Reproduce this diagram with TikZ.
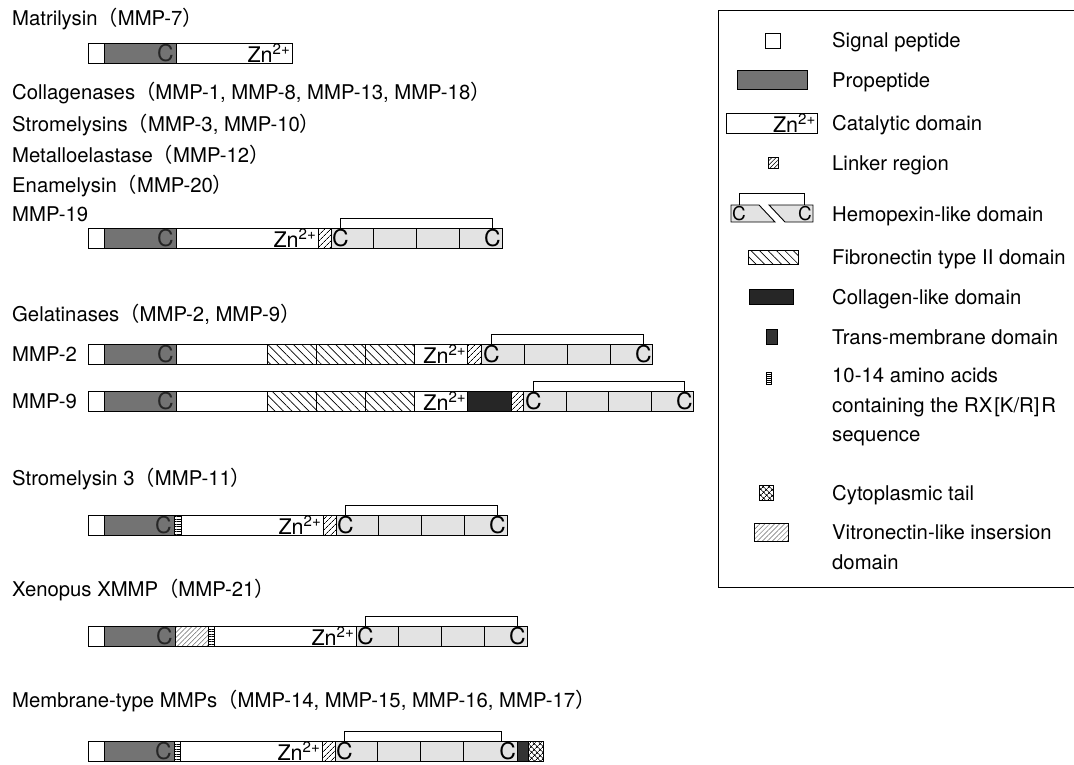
\documentclass[tikz,border=0pt]{standalone}
\usepackage{fontspec}
\setmainfont{TeX Gyre Heros}
\newfontfamily\cjk{Noto Sans CJK JP}
\usetikzlibrary{positioning,patterns.meta}

\newcommand{\jpl}{{\cjk （}}
\newcommand{\jpr}{{\cjk ）}}
\newcommand{\znion}{Zn\textsuperscript{2+}}

\begin{document}
\begin{tikzpicture}[x=1pt, y=-1pt,
  every node/.style={font=\fontsize{20.3}{29.5}\selectfont},
  dom/.style={draw, line width=0.9pt, minimum height=20pt, inner sep=0pt,
              outer sep=0pt, anchor=west},
  sig/.style={dom, minimum width=16pt, fill=white},
  pro/.style={dom, minimum width=#1, fill=black!55},
  pro/.default=72pt,
  cat/.style={dom, minimum width=#1, fill=white},
  lnk/.style={dom, minimum width=#1,
              pattern={Lines[angle=45, distance=4pt, line width=0.7pt]}},
  lnk/.default=13pt,
  hpx/.style={dom, minimum width=#1, fill=gray!22},
  hpx/.default=42.75pt,
  fn/.style={dom, minimum width=#1,
             pattern={Lines[angle=-45, distance=6pt, line width=0.7pt]}},
  fn/.default=49.3pt,
  col/.style={dom, minimum width=#1, fill=black!85},
  tm/.style={dom, minimum width=#1, fill=black!80},
  fur/.style={dom, minimum width=#1,
              pattern={Lines[angle=0, distance=2.5pt, line width=0.5pt]}},
  cyto/.style={dom, minimum width=#1,
               pattern={Hatch[angle=45, distance=4pt, line width=0.7pt]}},
  vit/.style={dom, minimum width=#1, pattern color=black!60,
              pattern={Lines[angle=45, distance=3.5pt, line width=0.5pt]}},
  cys/.style={font=\fontsize{23}{26}\selectfont, inner sep=1pt},
  cysp/.style={cys, text=black!85, anchor=east, inner sep=2pt},
  zn/.style={anchor=east, inner sep=1.5pt, font=\fontsize{21.5}{24}\selectfont},
  ss/.style={draw, line width=0.9pt},
  lbl/.style={anchor=base west, inner sep=0pt},
  key/.style={anchor=west, inner sep=0pt, align=left},
  ]
  \useasboundingbox (0,0) rectangle (1074,764);

  % family labels
  \node[lbl] (tm7)  at (12,25)  {Matrilysin\jpl MMP-7\jpr};
  \node[lbl] (tcol) at (12,99)  {Collagenases\jpl MMP-1, MMP-8, MMP-13, MMP-18\jpr};
  \node[lbl] (tstr) at (12,131) {Stromelysins\jpl MMP-3, MMP-10\jpr};
  \node[lbl] (tmet) at (12,162) {Metalloelastase\jpl MMP-12\jpr};
  \node[lbl] (tena) at (12,192) {Enamelysin\jpl MMP-20\jpr};
  \node[lbl] (t19)  at (12,221) {MMP-19};
  \node[lbl] (tgel) at (12,321) {Gelatinases\jpl MMP-2, MMP-9\jpr};
  \node[lbl] (t2)   at (12,361) {MMP-2};
  \node[lbl] (t9)   at (12,408) {MMP-9};
  \node[lbl] (t11)  at (12,485) {Stromelysin 3\jpl MMP-11\jpr};
  \node[lbl] (t21)  at (12,596) {Xenopus XMMP\jpl MMP-21\jpr};
  \node[lbl] (tmt)  at (12,707) {Membrane-type MMPs\jpl MMP-14, MMP-15, MMP-16, MMP-17\jpr};

  % MMP-7
  \node[sig] (m7sig) at (88,53) {};
  \node[pro, right=0pt of m7sig] (m7pro) {};
  \node[cat=116pt, right=0pt of m7pro] (m7cat) {};
  \node[cysp] at (m7pro.east) {C};
  \node[zn] at (m7cat.east) {\znion};

  % MMP-19 and the like
  \node[sig] (m19sig) at (88,238) {};
  \node[pro, right=0pt of m19sig] (m19pro) {};
  \node[cat=142pt, right=0pt of m19pro] (m19cat) {};
  \node[lnk, right=0pt of m19cat] (m19lnk) {};
  \node[hpx, right=0pt of m19lnk] (m19h1) {};
  \node[hpx, right=0pt of m19h1] (m19h2) {};
  \node[hpx, right=0pt of m19h2] (m19h3) {};
  \node[hpx, right=0pt of m19h3] (m19h4) {};
  \node[cysp] at (m19pro.east) {C};
  \node[zn] at (m19cat.east) {\znion};
  \node[cys, anchor=west] (m19c1) at (m19h1.west) {C};
  \node[cys, anchor=east] (m19c2) at (m19h4.east) {C};
  \draw[ss] (m19c1.center |- m19h1.north) -- ++(0,-10) -| (m19c2.center |- m19h4.north);

  % MMP-2
  \node[sig] (m2sig) at (88,354) {};
  \node[pro, right=0pt of m2sig] (m2pro) {};
  \node[cat=91pt, right=0pt of m2pro] (m2cat) {};
  \node[fn, right=0pt of m2cat] (m2f1) {};
  \node[fn, right=0pt of m2f1] (m2f2) {};
  \node[fn, right=0pt of m2f2] (m2f3) {};
  \node[cat=53pt, right=0pt of m2f3] (m2zn) {};
  \node[lnk=14pt, right=0pt of m2zn] (m2lnk) {};
  \node[hpx, right=0pt of m2lnk] (m2h1) {};
  \node[hpx, right=0pt of m2h1] (m2h2) {};
  \node[hpx, right=0pt of m2h2] (m2h3) {};
  \node[hpx, right=0pt of m2h3] (m2h4) {};
  \node[cysp] at (m2pro.east) {C};
  \node[zn] at (m2zn.east) {\znion};
  \node[cys, anchor=west] (m2c1) at (m2h1.west) {C};
  \node[cys, anchor=east] (m2c2) at (m2h4.east) {C};
  \draw[ss] (m2c1.center |- m2h1.north) -- ++(0,-10) -| (m2c2.center |- m2h4.north);

  % MMP-9
  \node[sig] (m9sig) at (88,401) {};
  \node[pro, right=0pt of m9sig] (m9pro) {};
  \node[cat=91pt, right=0pt of m9pro] (m9cat) {};
  \node[fn, right=0pt of m9cat] (m9f1) {};
  \node[fn, right=0pt of m9f1] (m9f2) {};
  \node[fn, right=0pt of m9f2] (m9f3) {};
  \node[cat=53pt, right=0pt of m9f3] (m9zn) {};
  \node[col=44pt, right=0pt of m9zn] (m9col) {};
  \node[lnk=12pt, right=0pt of m9col] (m9lnk) {};
  \node[hpx=42.5pt, right=0pt of m9lnk] (m9h1) {};
  \node[hpx=42.5pt, right=0pt of m9h1] (m9h2) {};
  \node[hpx=42.5pt, right=0pt of m9h2] (m9h3) {};
  \node[hpx=42.5pt, right=0pt of m9h3] (m9h4) {};
  \node[cysp] at (m9pro.east) {C};
  \node[zn] at (m9zn.east) {\znion};
  \node[cys, anchor=west] (m9c1) at (m9h1.west) {C};
  \node[cys, anchor=east] (m9c2) at (m9h4.east) {C};
  \draw[ss] (m9c1.center |- m9h1.north) -- ++(0,-10) -| (m9c2.center |- m9h4.north);

  % MMP-11
  \node[sig] (m11sig) at (88,525) {};
  \node[pro=70pt, right=0pt of m11sig] (m11pro) {};
  \node[fur=7pt, right=0pt of m11pro] (m11fur) {};
  \node[cat=142pt, right=0pt of m11fur] (m11cat) {};
  \node[lnk, right=0pt of m11cat] (m11lnk) {};
  \node[hpx, right=0pt of m11lnk] (m11h1) {};
  \node[hpx, right=0pt of m11h1] (m11h2) {};
  \node[hpx, right=0pt of m11h2] (m11h3) {};
  \node[hpx, right=0pt of m11h3] (m11h4) {};
  \node[cysp] at (m11pro.east) {C};
  \node[zn] at (m11cat.east) {\znion};
  \node[cys, anchor=west] (m11c1) at (m11h1.west) {C};
  \node[cys, anchor=east] (m11c2) at (m11h4.east) {C};
  \draw[ss] (m11c1.center |- m11h1.north) -- ++(0,-10) -| (m11c2.center |- m11h4.north);

  % MMP-21
  \node[sig] (m21sig) at (88,636) {};
  \node[pro=71pt, right=0pt of m21sig] (m21pro) {};
  \node[vit=33pt, right=0pt of m21pro] (m21vit) {};
  \node[fur=6pt, right=0pt of m21vit] (m21fur) {};
  \node[cat=142pt, right=0pt of m21fur] (m21cat) {};
  \node[hpx, right=0pt of m21cat] (m21h1) {};
  \node[hpx, right=0pt of m21h1] (m21h2) {};
  \node[hpx, right=0pt of m21h2] (m21h3) {};
  \node[hpx, right=0pt of m21h3] (m21h4) {};
  \node[cysp] at (m21pro.east) {C};
  \node[zn] at (m21cat.east) {\znion};
  \node[cys, anchor=west] (m21c1) at (m21h1.west) {C};
  \node[cys, anchor=east] (m21c2) at (m21h4.east) {C};
  \draw[ss] (m21c1.center |- m21h1.north) -- ++(0,-10) -| (m21c2.center |- m21h4.north);

  % MT-MMPs
  \node[sig] (mtsig) at (88,751) {};
  \node[pro=70pt, right=0pt of mtsig] (mtpro) {};
  \node[fur=6pt, right=0pt of mtpro] (mtfur) {};
  \node[cat=142pt, right=0pt of mtfur] (mtcat) {};
  \node[lnk, right=0pt of mtcat] (mtlnk) {};
  \node[hpx=42.7pt, right=0pt of mtlnk] (mth1) {};
  \node[hpx=42.7pt, right=0pt of mth1] (mth2) {};
  \node[hpx=42.7pt, right=0pt of mth2] (mth3) {};
  \node[hpx=54pt, right=0pt of mth3] (mth4) {};
  \node[tm=11pt, right=0pt of mth4] (mttm) {};
  \node[cyto=15pt, right=0pt of mttm] (mtcyt) {};
  \node[cysp] at (mtpro.east) {C};
  \node[zn] at (mtcat.east) {\znion};
  \node[cys, anchor=west] (mtc1) at (mth1.west) {C};
  \node[cys, anchor=east] (mtc2) at (mth4.east) {C};
  \draw[ss] (mtc1.center |- mth1.north) -- ++(0,-10) -| ([xshift=-6pt]mtc2.center |- mth4.north);

  % legend
  \draw[ss] (1074,10) -- (718,10) -- (718,587) -- (1074,587);
  \node[sig, minimum width=15pt, minimum height=15pt, anchor=center] (kysig) at (773,41) {};
  \node[pro=70pt, minimum height=19pt, anchor=center] (kypro) at (772,80) {};
  \node[cat=91pt, anchor=center] (kycat) at (772,123) {};
  \node[zn] at (kycat.east) {\znion};
  \node[lnk=10pt, minimum height=11pt, anchor=center,
        pattern={Lines[angle=45, distance=3pt, line width=0.5pt]}] (kylnk) at (773,163) {};
  \filldraw[ss, fill=gray!22] (731,205) -- (759,205) -- (775,222) -- (731,222) -- cycle;
  \filldraw[ss, fill=gray!22] (769,205) -- (813,205) -- (813,222) -- (785,222) -- cycle;
  \node[cys, font=\fontsize{19}{21}\selectfont, anchor=west] (kyc1) at (731,214) {C};
  \node[cys, font=\fontsize{19}{21}\selectfont, anchor=east] (kyc2) at (813,214) {C};
  \draw[ss] (kyc1.center |- 0,205) -- ++(0,-12) -| (kyc2.center |- 0,205);
  \node[fn=50pt, minimum height=14pt, anchor=center] (kyfn) at (773,257) {};
  \node[col=44pt, minimum height=15pt, anchor=center] (kycol) at (771,297) {};
  \node[tm=11pt, minimum height=15pt, anchor=center] (kytm) at (772,337) {};
  \node[fur=5pt, minimum height=12pt, anchor=center,
        pattern={Lines[angle=0, distance=2pt, line width=0.5pt]}] (kyfur) at (769,378) {};
  \node[cyto=14pt, minimum height=15pt, anchor=center] (kycyt) at (766,493) {};
  \node[vit=34pt, minimum height=18pt, anchor=center] (kyvit) at (771,532) {};

  \node[lbl] (lsig) at (832,47)  {Signal peptide};
  \node[lbl] (lpro) at (832,87)  {Propeptide};
  \node[lbl] (lcat) at (832,130) {Catalytic domain};
  \node[lbl] (llnk) at (832,170) {Linker region};
  \node[lbl] (lhpx) at (832,221) {Hemopexin-like domain};
  \node[lbl] (lfn)  at (832,264) {Fibronectin type II domain};
  \node[lbl] (lcol) at (832,304) {Collagen-like domain};
  \node[lbl] (ltm)  at (832,344) {Trans-membrane domain};
  \node[key] (lfur) at (832,407) {10-14 amino acids\\containing the RX\kern2pt[K/R]\kern2pt R\\sequence};
  \node[lbl] (lcyt) at (832,500) {Cytoplasmic tail};
  \node[key] (lvit) at (832,547) {Vitronectin-like insersion\\domain};
\end{tikzpicture}
\end{document}
